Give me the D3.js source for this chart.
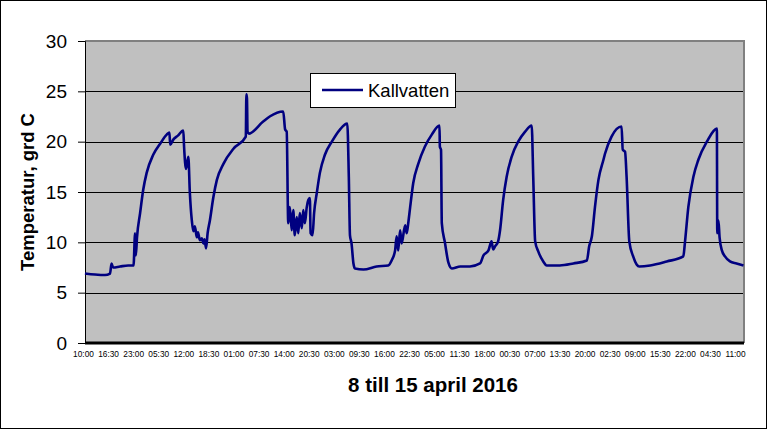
<!DOCTYPE html>
<html>
<head>
<meta charset="utf-8">
<script src="https://cdn.jsdelivr.net/npm/d3@7"></script>
<style>
  html, body { margin: 0; padding: 0; background: #fff; }
  svg { display: block; }
</style>
</head>
<body>
<svg id="chart" width="768" height="430"></svg>
<script>
// ---- data ----
// hours since 8 April 2016 10:00
const hours = [
  0.5, 3.1, 5.7, 7.0, 7.4, 7.8, 9.6, 11.7, 13.1, 13.5, 13.7, 14.0, 14.8, 15.6, 16.5, 18.2, 20.0, 21.7, 22.4,
  22.6, 23.4, 24.6, 26.0, 26.2, 26.7, 27.3, 27.7, 28.2, 28.6, 29.0, 29.5, 29.8, 30.3, 30.8, 31.2, 31.5, 31.9,
  32.3, 32.9, 33.8, 34.7, 36.4, 39.0, 42.2, 42.35, 42.5, 42.65, 43.0, 46.7, 48.4, 51.9, 52.4, 52.8, 53.2,
  53.6, 54.1, 54.5, 54.9, 55.4, 55.8, 56.2, 56.7, 57.1, 57.5, 58.0, 58.4, 58.8, 59.0, 59.5, 59.9, 60.6,
  61.4, 62.7, 64.5, 66.6, 68.5, 68.9, 69.2, 69.6, 70.1, 70.5, 72.7, 76.1, 79.1, 80.0, 80.9, 81.3, 81.7,
  82.2, 82.6, 83.5, 83.9, 84.3, 84.8, 85.6, 86.9, 88.6, 90.4, 92.4, 92.5, 92.8, 93.0, 93.8, 94.7, 95.6,
  97.8, 100.3, 102.9, 103.8, 105.1, 105.9, 106.3, 106.8, 107.6, 108.1, 108.9, 109.8, 111.1, 112.8, 114.6,
  116.3, 116.7, 117.2, 118.0, 119.3, 120.2, 123.6, 127.1, 130.6, 131.2, 131.9, 132.7, 133.6, 134.9, 135.3,
  137.0, 139.6, 139.9, 140.5, 140.9, 141.6, 142.6, 143.5, 144.2, 147.0, 151.3, 155.6, 156.0, 156.9, 158.2,
  159.5, 161.7, 164.3, 164.4, 164.7, 165.0, 165.6, 166.4, 167.7, 169.4, 171.2
];
// Kallvatten temperature, grd C
const kallvatten = [
  6.9, 6.8, 6.75, 6.9, 7.9, 7.5, 7.6, 7.7, 7.7, 10.9, 8.7, 10.5, 12.9, 15.2, 16.9, 18.7, 19.8, 20.7, 20.9,
  19.7, 20.2, 20.6, 21.1, 19.5, 17.3, 18.5, 14.9, 12.2, 11.1, 11.6, 10.5, 11.0, 10.2, 10.4, 9.9, 10.3, 9.4,
  10.9, 12.2, 14.5, 16.2, 17.8, 19.3, 20.5, 24.7, 24.3, 21.0, 20.8, 22.0, 22.5, 23.0, 21.2, 21.0, 11.9,
  13.5, 11.2, 13.2, 10.7, 12.5, 10.9, 12.9, 11.4, 13.2, 11.9, 13.5, 14.2, 14.4, 10.9, 10.7, 12.9, 14.9,
  16.9, 18.7, 20.0, 21.2, 21.8, 16.5, 10.7, 9.9, 7.9, 7.4, 7.3, 7.6, 7.7, 8.2, 9.2, 10.6, 9.2,
  11.2, 9.9, 11.7, 10.9, 11.9, 13.5, 15.9, 17.8, 19.5, 20.7, 21.6, 19.5, 19.2, 11.9, 10.0, 8.0, 7.4,
  7.6, 7.6, 7.9, 8.7, 9.2, 10.1, 9.3, 9.6, 10.1, 11.2, 14.2, 16.5, 18.5, 20.0, 21.0,
  21.6, 16.5, 10.1, 9.1, 8.1, 7.7, 7.7, 7.9, 8.2, 9.6, 10.6, 13.5, 16.2, 18.2, 18.8,
  20.5, 21.5, 19.2, 19.0, 16.5, 10.1, 8.6, 7.8, 7.6, 7.7, 8.1, 8.6, 9.9, 13.5, 16.5,
  18.2, 20.0, 21.3, 10.9, 12.2, 10.5, 9.2, 8.6, 8.1, 7.9, 7.7
];
// x tick labels, one every 6.5 hours from 8 April 10:00
const tickLabels = [
  "10:00","16:30","23:00","05:30","12:00","18:30","01:00","07:30","14:00","20:30","03:00","09:30","16:00",
  "22:30","05:00","11:30","18:00","00:30","07:00","13:30","20:00","02:30","09:00","15:30","22:00","04:30","11:00"
];
const tickStepHours = 6.5;
const yTicks = [0, 5, 10, 15, 20, 25, 30];
const seriesName = "Kallvatten";
const xTitle = "8 till 15 april 2016";
const yTitle = "Temperatur, grd C";

// ---- layout ----
const plot = { left: 85, right: 744, top: 41, bottom: 343 };
const svg = d3.select("#chart");

// outer chart border
svg.append("rect").attr("x", 0.5).attr("y", 0.5).attr("width", 766).attr("height", 428)
  .attr("fill", "#fff").attr("stroke", "#000").attr("stroke-width", 1);

const x = d3.scaleLinear().domain([0.52, 171.33]).range([plot.left, plot.right]);
const y = d3.scaleLinear().domain([0, 30]).range([plot.bottom, plot.top]);

// plot background
svg.append("rect").attr("x", plot.left).attr("y", plot.top)
  .attr("width", plot.right - plot.left).attr("height", plot.bottom - plot.top)
  .attr("fill", "#C0C0C0");

// gridlines
svg.append("g").selectAll("line").data(yTicks.filter(v => v > 0 && v < 30)).join("line")
  .attr("x1", plot.left).attr("x2", plot.right - 1)
  .attr("y1", d => Math.round(y(d)) + 0.5).attr("y2", d => Math.round(y(d)) + 0.5)
  .attr("stroke", "#000").attr("stroke-width", 1);

// plot border top/right (gray)
svg.append("path")
  .attr("d", `M${plot.left},${plot.top} H${plot.right} V${plot.bottom}`)
  .attr("fill", "none").attr("stroke", "#808080").attr("stroke-width", 2);

// y axis
const yAxis = svg.append("g").attr("transform", `translate(${plot.left},0)`)
  .call(d3.axisLeft(y).tickValues(yTicks).tickSize(7).tickPadding(11).tickFormat(d3.format("d")));
yAxis.select(".domain").attr("stroke", "#000").attr("stroke-width", 1);
yAxis.selectAll(".tick line").attr("stroke", "#000");
yAxis.selectAll(".tick text").attr("font-family", "Arial, 'Liberation Sans', sans-serif")
  .attr("font-size", 19).attr("fill", "#000");

// line
const line = d3.line().x((d, i) => x(hours[i])).y(d => y(d)).curve(d3.curveMonotoneX);
svg.append("path").datum(kallvatten)
  .attr("d", line).attr("fill", "none")
  .attr("stroke", "#000080").attr("stroke-width", 2.6)
  .attr("stroke-linejoin", "round");

// x axis
const xAxis = svg.append("g").attr("transform", `translate(0,${plot.bottom})`)
  .call(d3.axisBottom(x)
    .tickValues(tickLabels.map((_, i) => i * tickStepHours))
    .tickFormat((d, i) => tickLabels[i])
    .tickSize(0).tickPadding(8));
xAxis.select(".domain").remove();
xAxis.selectAll(".tick text").attr("font-family", "'Liberation Sans Narrow', Arial, sans-serif")
  .attr("font-size", 8.3).attr("fill", "#000");
svg.append("line").attr("x1", plot.left).attr("x2", plot.right)
  .attr("y1", plot.bottom).attr("y2", plot.bottom)
  .attr("stroke", "#000").attr("stroke-width", 3);

// titles
svg.append("text").attr("x", 433).attr("y", 392).attr("text-anchor", "middle")
  .attr("font-family", "Arial, 'Liberation Sans', sans-serif").attr("font-weight", "bold")
  .attr("font-size", 20.5).text(xTitle);
svg.append("text").attr("transform", "translate(34,192) rotate(-90)").attr("text-anchor", "middle")
  .attr("font-family", "Arial, 'Liberation Sans', sans-serif").attr("font-weight", "bold")
  .attr("font-size", 18.5).text(yTitle);

// legend
const lg = svg.append("g");
lg.append("rect").attr("x", 310.5).attr("y", 73.5).attr("width", 145).attr("height", 34)
  .attr("fill", "#fff").attr("stroke", "#000").attr("stroke-width", 1);
lg.append("line").attr("x1", 322).attr("x2", 363).attr("y1", 90).attr("y2", 90)
  .attr("stroke", "#000080").attr("stroke-width", 2.6);
lg.append("text").attr("x", 368).attr("y", 96.5)
  .attr("font-family", "Arial, 'Liberation Sans', sans-serif").attr("font-size", 18.5)
  .text(seriesName);
</script>
</body>
</html>
